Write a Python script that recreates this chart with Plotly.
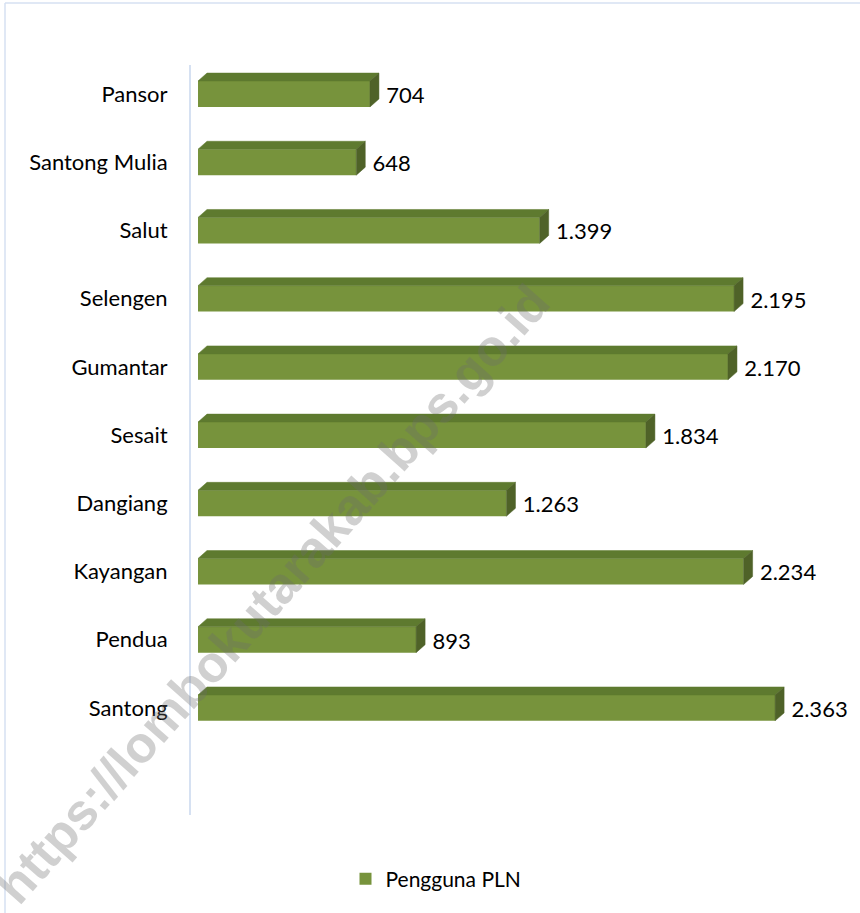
import plotly.graph_objects as go

# ---- data (bottom to top order) ----
categories = ["Santong", "Pendua", "Kayangan", "Dangiang", "Sesait",
              "Gumantar", "Selengen", "Salut", "Santong Mulia", "Pansor"]
values = [2363, 893, 2234, 1263, 1834, 2170, 2195, 1399, 648, 704]
series_name = "Pengguna PLN"
watermark = "https://lombokutarakab.bps.go.id"

FRONT = "#77933C"
TOP = "#5E7A2F"
SIDE = "#4F6228"
FONT = "Lato, 'Open Sans', sans-serif"

W, H = 860, 913
ML, MR, MT, MB = 191, 60, 65, 98
PW, PH = W - ML - MR, H - MT - MB
XMIN, XMAX = -28.7, 2465
YMIN, YMAX = -1.57, 9.425

ypos = list(range(len(categories)))
half = 0.19      # half height of the front face (category units)
dx = 36.9        # 3D depth in x units
dy = 0.117       # 3D depth in y units
label_gap = 30   # gap between side face and value label (x units)
label_drop = 0.05


def fmt(v):
    return f"{v:,}".replace(",", ".")


def px_x(p):
    return (p - ML) / PW


def px_y(p):
    return (H - MB - p) / PH


fig = go.Figure()

# front faces
fig.add_trace(go.Bar(
    y=ypos, x=values, orientation="h", width=2 * half,
    marker=dict(color=FRONT, line=dict(width=0)),
    name=series_name, showlegend=True, hoverinfo="skip",
))

# top and side faces (3D effect), derived from values
for y, v in zip(ypos, values):
    fig.add_trace(go.Scatter(
        x=[0, dx, v + dx, v, 0],
        y=[y + half, y + half + dy, y + half + dy, y + half, y + half],
        fill="toself", fillcolor=TOP, mode="lines",
        line=dict(color=TOP, width=0.5), showlegend=False, hoverinfo="skip",
    ))
    fig.add_trace(go.Scatter(
        x=[v, v + dx, v + dx, v, v],
        y=[y - half, y - half + dy, y + half + dy, y + half, y - half],
        fill="toself", fillcolor=SIDE, mode="lines",
        line=dict(color=SIDE, width=0.5), showlegend=False, hoverinfo="skip",
    ))

# value labels
fig.add_trace(go.Scatter(
    x=[v + dx + label_gap for v in values], y=[y - label_drop for y in ypos],
    mode="text",
    text=[fmt(v) for v in values], textposition="middle right",
    textfont=dict(family=FONT, size=22, color="#000000"),
    showlegend=False, hoverinfo="skip", cliponaxis=False,
))

fig.update_layout(
    width=W, height=H,
    margin=dict(l=ML, r=MR, t=MT, b=MB),
    paper_bgcolor="white", plot_bgcolor="white",
    font=dict(family=FONT, size=22, color="#000000"),
    showlegend=True,
    legend=dict(orientation="h", x=px_x(436), xanchor="center",
                y=px_y(879), yanchor="middle",
                font=dict(family=FONT, size=21, color="#000000"),
                itemwidth=30),
    xaxis=dict(range=[XMIN, XMAX], showgrid=False, zeroline=False,
               showticklabels=False, showline=False, fixedrange=True),
    yaxis=dict(range=[YMIN, YMAX], tickmode="array", tickvals=ypos,
               ticktext=categories, showgrid=False, zeroline=False,
               showline=True, linecolor="#D6E1F2", linewidth=2,
               ticks="", ticklabelstandoff=17, fixedrange=True),
    shapes=[
        dict(type="line", xref="paper", yref="paper",
             x0=px_x(5), x1=px_x(5), y0=px_y(3), y1=px_y(H + 5),
             line=dict(color="#D6E1F2", width=1.5)),
        dict(type="line", xref="paper", yref="paper",
             x0=px_x(5), x1=px_x(W + 5), y0=px_y(3), y1=px_y(3),
             line=dict(color="#D6E1F2", width=1.5)),
    ],
    annotations=[dict(
        text="<b>" + watermark + "</b>", xref="paper", yref="paper",
        x=px_x(272), y=px_y(594),
        xanchor="center", yanchor="middle", showarrow=False,
        textangle=-48.5,
        font=dict(family="Liberation Sans, Arial, sans-serif", size=51,
                  color="rgba(110,110,110,0.32)"),
    )],
)

fig.write_html("out.html", config={"displayModeBar": False},
               post_script="document.body.style.margin='0';")
